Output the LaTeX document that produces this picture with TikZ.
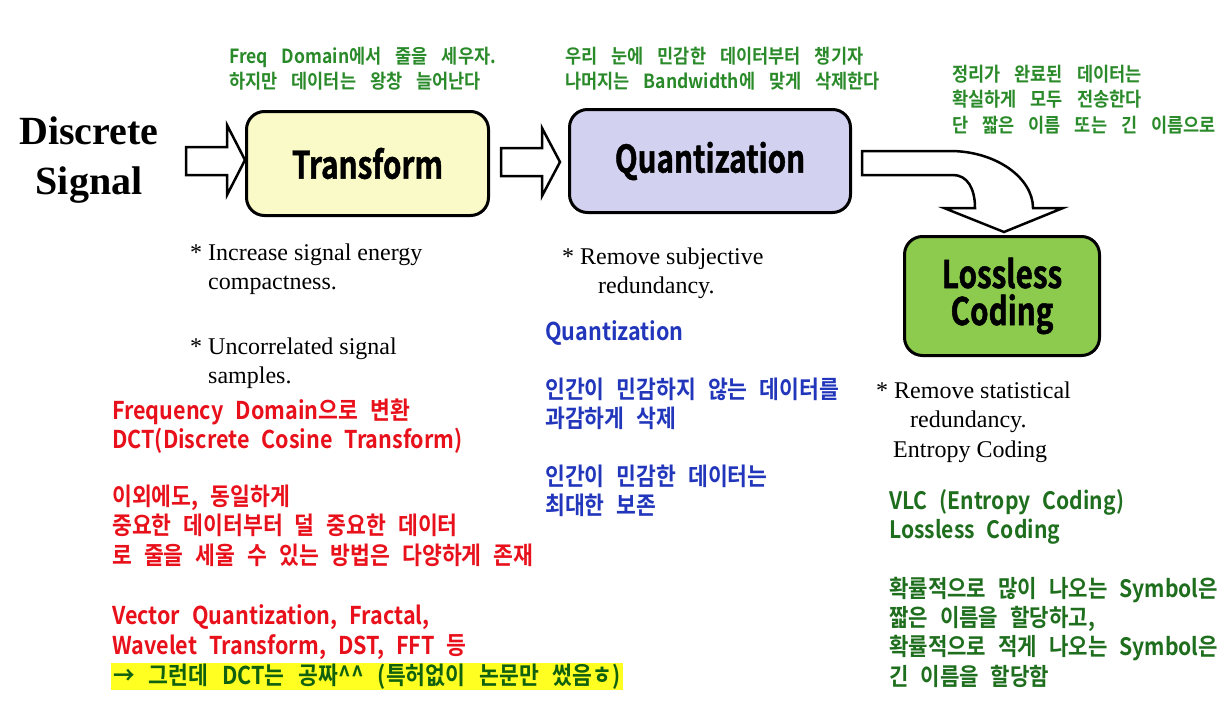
\documentclass[tikz,border=0pt]{standalone}
\usepackage{fontspec}
\setmainfont{Liberation Serif}
\newfontfamily\krb[FakeStretch=0.88]{Noto Sans CJK KR Bold}
\newfontfamily\krtop[FakeStretch=0.9]{Noto Sans CJK KR Bold}
\newfontfamily\boxfont[FakeStretch=0.78,FakeBold=1.2]{Noto Sans CJK KR Bold}
\newcommand\fsz[2]{\fontsize{#1}{#2}\selectfont}
\protected\def\topfont{\krtop\fsz{19.5}{25}\spaceskip=14pt\relax}
\protected\def\topfontb{\krtop\fsz{19.5}{25.5}\spaceskip=14pt\relax}
\protected\def\bigfont#1#2{\krb\fsz{#1}{#2}\spaceskip=12pt\relax}
\protected\def\hlfont{\krb\fsz{24.5}{24}\spaceskip=14pt\relax}
\definecolor{topgreen}{HTML}{2A8A2A}
\definecolor{botgreen}{HTML}{1E6E1E}
\definecolor{hlgreen}{HTML}{106010}
\definecolor{redtxt}{HTML}{E8101A}
\definecolor{bluetxt}{HTML}{2236BB}
\definecolor{yfill}{HTML}{FAFAC8}
\definecolor{qfill}{HTML}{D2D2F0}
\definecolor{lfill}{HTML}{8DCB4E}
\definecolor{hlyellow}{HTML}{FFFF22}
\begin{document}
\begin{tikzpicture}[x=1pt,y=-1pt,
  procbox/.style={draw=black, line width=3pt, rounded corners=18pt,
    font=\boxfont\fsz{38}{37}, align=center, inner sep=0pt},
  blockarrow/.style={draw=black, line width=2.5pt, fill=white, line join=miter},
  greentop/.style={text=topgreen, font=\topfont, align=left, inner sep=0pt, anchor=base west},
  bigtxt/.style={font=\bigfont{24.5}{29.5}, align=left, inner sep=0pt, anchor=base west},
  serifnote/.style={font=\fsz{24}{29}, align=left, inner sep=0pt, anchor=base west}]
\useasboundingbox (0,0) rectangle (1231,704);

% title
\node[font=\bfseries\fsz{40}{50}, align=center, inner sep=0pt, anchor=base] (title) at (89,194) {Discrete\\Signal};

% boxes
\node[procbox, fill=yfill, minimum width=242pt, minimum height=104pt] (trans) at (367.5,163.5) {Transform};
\node[procbox, fill=qfill, minimum width=281pt, minimum height=103pt] (quant) at (710,161) {Quantization};
\node[procbox, fill=lfill, minimum width=195pt, minimum height=119pt] (loss) at (1002,296) {Lossless\\Coding};

% block arrows
\draw[blockarrow] (186,147) -- (227,147) -- (227,125) -- (245,160) -- (227,195) -- (227,175) -- (186,175) -- cycle;
\draw[blockarrow] (501,148) -- (542,148) -- (542,128) -- (560,162) -- (542,196) -- (542,176) -- (501,176) -- cycle;
\draw[blockarrow] (862,151) -- (950,151) .. controls (996,151) and (1033,178) .. (1033,208)
  -- (1063,208) -- (1004,232) -- (944,208) -- (975,208)
  .. controls (975,188) and (967,175) .. (953,175) -- (862,175) -- cycle;

% green top notes
\node[greentop] (g1) at (229,88) {Freq Domain에서 줄을 세우자.\\하지만 데이터는 왕창 늘어난다};
\node[greentop] (g2) at (565,88) {우리 눈에 민감한 데이터부터 챙기자\\나머지는 Bandwidth에 맞게 삭제한다};
\node[greentop, font=\topfontb] (g3) at (952,132) {정리가 완료된 데이터는\\확실하게 모두 전송한다\\단 짧은 이름 또는 긴 이름으로};

% serif notes
\node[serifnote] (n1) at (190,289) {* Increase signal energy\\\phantom{* }compactness.};
\node[serifnote] (n2) at (190,383) {* Uncorrelated signal\\\phantom{* }samples.};
\node[serifnote] (n3) at (562,293) {* Remove subjective\\\hspace*{36pt}redundancy.};
\node[serifnote, font=\fsz{24}{29.5}] (n4) at (876,457) {* Remove statistical\\\hspace*{34pt}redundancy.\\\hspace*{17pt}Entropy Coding};

% red block
\node[bigtxt, text=redtxt] (red) at (112,654) {Frequency Domain으로 변환\\DCT(Discrete Cosine Transform)\\[27pt]이외에도, 동일하게\\중요한 데이터부터 덜 중요한 데이터\\로 줄을 세울 수 있는 방법은 다양하게 존재\\[31pt]Vector Quantization, Fractal,\\Wavelet Transform, DST, FFT 등};
\node[font=\hlfont, text=hlgreen, fill=hlyellow, anchor=west, inner xsep=2pt, inner ysep=0pt, minimum height=27pt] (hl) at (111,676.5) {→ 그런데 DCT는 공짜\textasciicircum\textasciicircum{} (특허없이 논문만 썼음ㅎ)};

% blue block
\node[bigtxt, text=bluetxt, font=\bigfont{24.5}{29}] (blue) at (545,514) {Quantization\\[29pt]인간이 민감하지 않는 데이터를\\과감하게 삭제\\[29pt]인간이 민감한 데이터는\\최대한 보존};

% green bottom block
\node[bigtxt, text=botgreen, font=\bigfont{24}{29.3}] (gb) at (889,685) {VLC (Entropy Coding)\\Lossless Coding\\[29.3pt]확률적으로 많이 나오는 Symbol은\\짧은 이름을 할당하고,\\확률적으로 적게 나오는 Symbol은\\긴 이름을 할당함};
\end{tikzpicture}
\end{document}
